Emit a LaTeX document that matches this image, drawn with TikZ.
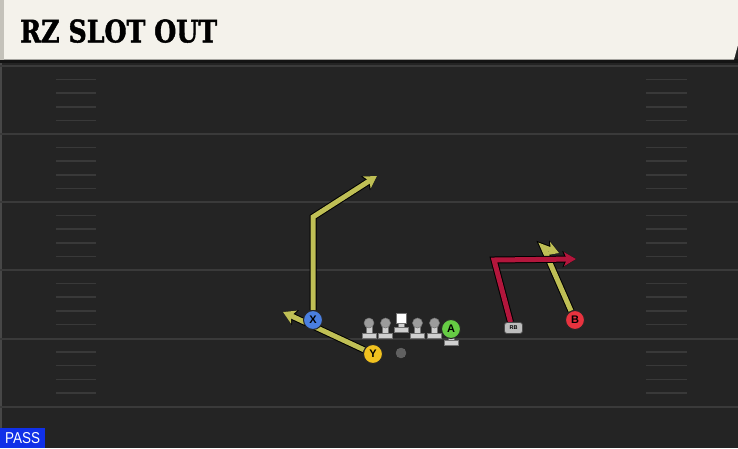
\documentclass[tikz,border=0pt]{standalone}
\usepackage{fontspec}
\setmainfont{DejaVu Serif}
\setsansfont{Liberation Sans}
\newfontfamily\titlefont{DejaVu Serif}[BoldFeatures={FakeBold=1.6}]
\usetikzlibrary{arrows.meta}
\definecolor{hdrc}{HTML}{F4F2EB}
\definecolor{stripec}{HTML}{C4C2BA}
\definecolor{fieldc}{HTML}{242424}
\definecolor{shadowc}{HTML}{141414}
\definecolor{yardc}{HTML}{3A3A3A}
\definecolor{hashc}{HTML}{393939}
\definecolor{routey}{HTML}{BFBF55}
\definecolor{router}{HTML}{B3163C}
\definecolor{xblue}{HTML}{4A7FE0}
\definecolor{yyel}{HTML}{F2C21F}
\definecolor{agreen}{HTML}{66CC44}
\definecolor{bred}{HTML}{E8333F}
\definecolor{olhead}{HTML}{9C9C9C}
\definecolor{olbody}{HTML}{D0D0D0}
\definecolor{passc}{HTML}{1030E8}
\definecolor{tagc}{HTML}{BDBDBD}
\pgfdeclarelayer{back}
\pgfdeclarelayer{mid}
\pgfsetlayers{back,mid,main}
\tikzset{
  yard/.style={draw=yardc, line width=2pt},
  hash/.style={draw=hashc, line width=1.5pt},
  yroute/.style={draw=routey, line width=5pt, line join=miter,
    -{Stealth[length=12pt,width=14pt,inset=3pt]},
    preaction={draw=black, line width=7pt, line join=miter,
      -{Stealth[length=13.5pt,width=16pt,inset=3pt]}}},
  rroute/.style={yroute, draw=router},
  player/.style={circle, minimum size=19pt, inner sep=0pt, draw=black!85,
    line width=1pt, font=\sffamily\bfseries\fontsize{11}{11}\selectfont},
  ball/.style={circle, minimum size=10pt, inner sep=0pt, fill=gray!75!black, draw=black!60, line width=0.4pt},
  rbtag/.style={rectangle, rounded corners=2.5pt, minimum width=18pt, minimum height=11pt,
    inner sep=0pt, fill=tagc, draw=black!70, line width=0.8pt,
    font=\sffamily\bfseries\fontsize{5.5}{5.5}\selectfont},
  passbox/.style={rectangle, fill=passc, text=white, minimum width=45pt, minimum height=20pt,
    inner sep=0pt, font=\sffamily},
  olpart/.style={fill=olbody, draw=black!55, line width=0.5pt},
  lineman/.pic={
    \path[olpart] (-3,-1) rectangle (3,11);
    \path[olpart] (-7,10.5) rectangle (7,15.5);
    \path[fill=olhead, draw=black!55, line width=0.5pt] (0,0) circle (5);
  }
}
\begin{document}
\begin{tikzpicture}[x=1pt,y=-1pt]
\useasboundingbox (0,0) rectangle (738,448);
\begin{pgfonlayer}{back}
  \fill[fieldc] (0,0) rectangle (738,448);
  \fill[shadowc] (0,59) rectangle (738,63);
  \fill[hdrc] (0,0) -- (738,0) -- (738,45) -- (734,59.5) -- (0,59.5) -- cycle;
  \fill[stripec] (0,0) rectangle (4,59.5);
  \fill[black!72] (0,63) rectangle (2,448);
  \foreach \y in {66,134,202,270,338.5,407} \draw[yard] (0,\y) -- (738,\y);
  \foreach \s in {66,134,202,270,338.5}
    \foreach \k in {1,2,3,4} {
      \draw[hash] (56,{\s+13.6*\k}) -- (96,{\s+13.6*\k});
      \draw[hash] (646,{\s+13.6*\k}) -- (687,{\s+13.6*\k});
    }
\end{pgfonlayer}

\node[anchor=south west, inner sep=0pt] (title) at (20,43)
  {\resizebox{197pt}{23pt}{\titlefont\bfseries RZ SLOT OUT}};
\node[passbox, anchor=south west] (pass) at (0,448)
  {\resizebox{35pt}{11pt}{PASS}};

% linemen
\pic at (369,323) {lineman};
\pic at (385.5,323) {lineman};
\pic at (417.5,323) {lineman};
\pic at (434.5,323) {lineman};
\path[olpart] (398.5,321) rectangle (404.5,328);
\path[olpart] (394.5,327) rectangle (408.5,332);
\path[fill=white, draw=black!55, line width=0.5pt] (396.5,313) rectangle (406.5,323);
% A stand
\path[olpart] (448,337) rectangle (454,341);
\path[olpart] (444,340.5) rectangle (458,345.5);

\node[ball] (qb) at (401,353) {};
\node[player, fill=xblue] (X) at (313,320) {X};
\node[player, fill=yyel] (Y) at (373,354) {Y};
\node[player, fill=agreen] (A) at (451,329) {A};
\node[player, fill=bred] (B) at (575,320) {B};
\node[rbtag] (RB) at (513.5,328) {RB};

\coordinate (xc) at (313,217);
\coordinate (xe) at (377,176);
\coordinate (ye) at (283,312);
\coordinate (bc) at (543,247);
\coordinate (be) at (559,253);
\coordinate (rc) at (494,260);
\coordinate (re) at (576,259);

\begin{pgfonlayer}{mid}
  \draw[yroute] (X) -- (xc) -- (xe);
  \draw[yroute] (Y) -- (ye);
  \draw[yroute] (B) -- (bc) -- (be);
  \draw[rroute] ([xshift=-3pt]RB.north) -- (rc) -- (re);
\end{pgfonlayer}
\end{tikzpicture}
\end{document}
